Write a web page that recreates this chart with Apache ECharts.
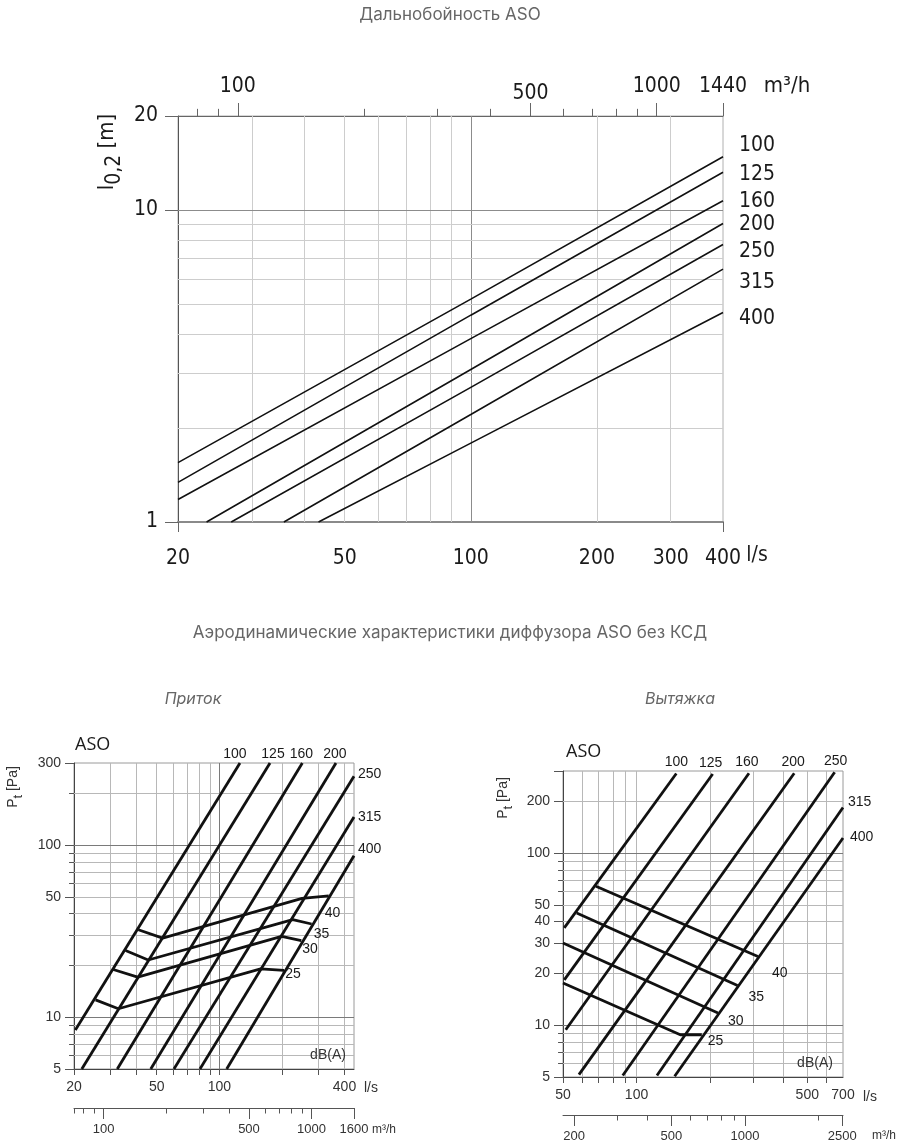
<!DOCTYPE html>
<html style="height: 100%">
<head>
    <meta charset="UTF-8">
    <title>Дальнобойность ASO</title>
    <script src="https://cdn.jsdelivr.net/npm/echarts@6.0.0/dist/echarts.min.js"></script>
</head>
<body style="height: 100%; margin: 0; background: #fff">
    <div id="main" style="width: 900px; height: 1148px"></div>
    <script type="text/javascript">
        // ---- Дальнобойность (l/s -> m) ----
        var throwSizes = ['100', '125', '160', '200', '250', '315', '400'];
        var throwFlow = [
            [20, 100, 400], [20, 100, 400], [20, 100, 400],
            [23.4, 100, 400], [26.8, 100, 400], [35.8, 100, 400], [43.3, 100, 400]
        ];
        var throwDist = [
            [1.55, 5.18, 14.8], [1.34, 4.6, 13.2], [1.18, 3.87, 10.7],
            [1, 3.08, 9.05], [1, 2.7, 7.75], [1, 2.21, 6.46], [1, 1.79, 4.69]
        ];
        var throwXGrid = [30, 40, 50, 60, 70, 80, 90, 100, 200, 300];
        var throwXDark = [100];
        var throwXLabels = [20, 50, 100, 200, 300, 400];
        var throwYGrid = [2, 3, 4, 5, 6, 7, 8, 9, 10];
        var throwYDark = [10];
        var throwYLabels = [1, 10, 20];
        var throwM3h = [80, 90, 100, 200, 300, 400, 500, 600, 700, 800, 900, 1000, 1440];
        var throwM3hLabels = [100, 500, 1000, 1440];

        // ---- Приток (l/s -> Pa) ----
        var supplySizes = ['100', '125', '160', '200', '250', '315', '400'];
        var supplyFlow = [[20.3, 125.7], [21.8, 175.3], [32.3, 250.8], [46.8, 364], [60.5, 444.4], [80.7, 444.4], [108.5, 444.4]];
        var supplyPress = [[8.43, 300], [5, 300], [5, 300], [5, 300], [5, 251], [5, 145.5], [5, 86.7]];
        var supplyNoise = ['25', '30', '35', '40'];
        var supplyNoiseFlow = [[25.4, 32.7, 158, 205], [30.6, 40.5, 199.4, 248], [35.4, 45.5, 225.5, 278], [40.8, 53.4, 250, 336]];
        var supplyNoisePress = [[12.6, 11.2, 19.1, 18.7], [19, 17.1, 29.5, 27.9], [24.4, 21.5, 36.9, 34.8], [32.2, 28.8, 49, 50.7]];
        var supplyXGrid = [30, 40, 50, 60, 70, 80, 90, 100, 200, 300, 400];
        var supplyXDark = [100];
        var supplyXLabels = [20, 50, 100, 400];
        var supplyYGrid = [6, 7, 8, 9, 10, 20, 30, 40, 50, 60, 70, 80, 90, 100, 200];
        var supplyYDark = [10, 100];
        var supplyYLabels = [5, 10, 50, 100, 300];
        var supplyM3h = [72, 80, 90, 100, 200, 300, 400, 500, 600, 700, 800, 900, 1000, 1600];
        var supplyM3hLabels = [100, 500, 1000, 1600];

        // ---- Вытяжка (l/s -> Pa) ----
        var exhaustSizes = ['100', '125', '160', '200', '250', '315', '400'];
        var exhaustFlow = [[50.6, 145.5], [50.6, 205], [51.3, 288.5], [58.1, 442], [87.8, 647], [121.2, 700], [143.2, 700]];
        var exhaustPress = [[36.8, 290], [18.35, 288], [9.41, 291], [5.16, 291], [5.1, 295], [5.1, 184], [5.05, 122.4]];
        var exhaustNoise = ['25', '30', '35', '40'];
        var exhaustNoiseFlow = [[50, 151, 185], [50, 215.5], [56.9, 259], [68.2, 314]];
        var exhaustNoisePress = [[17.6, 8.8, 8.8], [30, 11.77], [44.9, 17], [64.2, 25.1]];
        var exhaustXGrid = [60, 70, 80, 90, 100, 200, 300, 400, 500, 600];
        var exhaustXDark = [];
        var exhaustXLabels = [50, 100, 500, 700];
        var exhaustYGrid = [6, 7, 8, 9, 10, 20, 30, 40, 50, 60, 70, 80, 90, 100, 200];
        var exhaustYDark = [10, 100];
        var exhaustYLabels = [5, 10, 20, 30, 40, 50, 100, 200];
        var exhaustM3h = [200, 300, 400, 500, 600, 700, 800, 900, 1000, 2000, 2500];
        var exhaustM3hLabels = [200, 500, 1000, 2500];

        // label nudges (px) for the curve names
        var throwLabelDy = [-11, 2, 1, 1, 7, 13, 6];
        var supplyLabelOff = [[-5, -2], [3, -2], [-1, -2], [-1, -2], [4, -2], [4, 0], [4, -7]];
        var supplyNoiseOff = [[1, 4], [1, 9], [2, 10], [-4, 17]];
        var exhaustLabelOff = [[0, -4], [-2, -4], [-2, -4], [-1, -4], [1, -4], [5, -5], [7, -1]];
        var exhaustNoiseOff = [[6, 6], [10, 8], [11, 12], [14, 17]];

        var FONT_N = "'Liberation Sans Narrow', 'DejaVu Sans Condensed', 'Liberation Sans', sans-serif";
        var FONT = "'Liberation Sans', Arial, sans-serif";
        var FONT_T = "Inter, 'Noto Sans', sans-serif";
        var NONE = 'rgba(0,0,0,0)';

        var grid = [], xAxis = [], yAxis = [], series = [];

        function hidden(type, min, max, extra) {
            return Object.assign({
                type: type, min: min, max: max,
                axisLine: {show: false}, axisTick: {show: false},
                axisLabel: {show: false}, splitLine: {show: false}
            }, extra || {});
        }

        function addGrid(rect, xa, ya) {
            var i = grid.length;
            grid.push(rect);
            xa.gridIndex = i;
            ya.gridIndex = i;
            xAxis.push(xa);
            yAxis.push(ya);
            return i;
        }

        function markSeries(i, items) {
            series.push({
                type: 'line', xAxisIndex: i, yAxisIndex: i, data: [], clip: false, silent: true,
                markLine: {silent: true, symbol: 'none', animation: false, label: {show: false}, data: items}
            });
        }

        // grid lines + axis labels drawn as mark lines on the chart's own axes
        function gridLines(xs, xDark, ys, yDark, light, dark) {
            var items = [];
            xs.forEach(function (v) {
                items.push({xAxis: v, lineStyle: {type: 'solid', width: 1, color: xDark.indexOf(v) >= 0 ? dark : light}});
            });
            ys.forEach(function (v) {
                items.push({yAxis: v, lineStyle: {type: 'solid', width: 1, color: yDark.indexOf(v) >= 0 ? dark : light}});
            });
            return items;
        }

        function axisLabels(dim, vals, dist, style) {
            return vals.map(function (v) {
                var it = {
                    lineStyle: {color: NONE, width: 1, type: 'solid'},
                    label: Object.assign({show: true, position: 'start', distance: dist, formatter: String(v)}, style)
                };
                it[dim] = v;
                return it;
            });
        }

        // tick strip along x (log scale), ticks from 0 to 1 (majors) or minor
        function xStrip(rect, min, max, ticks, labels, opt) {
            var xa = hidden('log', min, max);
            if (opt.line) {
                xa.axisLine = {show: true, onZero: false, lineStyle: {color: opt.line, width: 1}};
                xa.position = opt.down ? 'top' : 'bottom';
            }
            var i = addGrid(rect, xa, hidden('value', 0, 1, {inverse: !!opt.down}));
            var items = ticks.map(function (v) {
                var major = labels.indexOf(v) >= 0 || (opt.majors || []).indexOf(v) >= 0;
                var from = {coord: [v, 0], lineStyle: {type: 'solid', width: 1, color: opt.color}};
                if (labels.indexOf(v) >= 0 && opt.labelStyle) {
                    var d = (opt.distFor && opt.distFor[v] != null) ? opt.distFor[v] : opt.dist;
                    from.label = Object.assign({show: true, position: 'end', distance: d, formatter: String(v)}, opt.labelStyle);
                }
                return [from, {coord: [v, major ? 1 : opt.minor]}];
            });
            markSeries(i, items);
        }

        // tick strip on the left of a chart (log y)
        function yStrip(rect, min, max, ticks, majors, opt) {
            var i = addGrid(rect, hidden('value', 0, 1, {inverse: true}), hidden('log', min, max));
            var items = ticks.map(function (v) {
                return [{coord: [0, v], lineStyle: {type: 'solid', width: 1, color: opt.color}},
                        {coord: [majors.indexOf(v) >= 0 ? 1 : opt.minor, v]}];
            });
            markSeries(i, items);
        }

        function curve(i, name, xs, ys, width, endLabel) {
            series.push({
                type: 'line', name: name, xAxisIndex: i, yAxisIndex: i,
                data: xs.map(function (x, k) { return [x, ys[k]]; }),
                symbol: 'none', showSymbol: false, clip: false, silent: true, z: 5,
                lineStyle: {color: '#111', width: width},
                endLabel: Object.assign({show: true, formatter: name, color: '#1a1a1a'}, endLabel)
            });
        }

        // ================= top chart =================
        var gT = addGrid({left: 178, top: 116, width: 545, height: 406, show: true, borderColor: '#b0b0b0', borderWidth: 1},
            hidden('log', 20, 400, {axisLine: {show: true, onZero: false, lineStyle: {color: '#8a8a8a', width: 2}}}),
            hidden('log', 1, 20, {axisLine: {show: true, onZero: false, lineStyle: {color: '#555', width: 1}}}));
        var topLab = {fontFamily: FONT_N, fontSize: 21, color: '#1a1a1a'};
        markSeries(gT, gridLines(throwXGrid, throwXDark, throwYGrid, throwYDark, '#cdcdcd', '#8c8c8c')
            .concat(axisLabels('xAxis', throwXLabels, 26, Object.assign({}, topLab)))
            .concat(axisLabels('yAxis', throwYLabels, 20, Object.assign({}, topLab))));
        throwSizes.forEach(function (s, k) {
            curve(gT, s, throwFlow[k], throwDist[k], 1.6,
                {distance: 16, offset: [0, throwLabelDy[k]], fontFamily: FONT_N, fontSize: 21});
        });
        // m3/h axis above
        xStrip({left: 178, top: 103, width: 545, height: 13}, 72, 1440, throwM3h, throwM3hLabels,
            {line: '#666', color: '#666', minor: 0.55, dist: 6, distFor: {500: -1}, labelStyle: topLab});
        yStrip({left: 165, top: 116, width: 13, height: 406}, 1, 20, throwYLabels, throwYLabels, {color: '#666', minor: 1});
        xStrip({left: 178, top: 522, width: 545, height: 10}, 20, 400, [20, 400], [], {down: true, color: '#666', minor: 1});

        // ================= bottom charts =================
        var botLab = {fontFamily: FONT, fontSize: 14, color: '#333'};
        var m3hLab = {fontFamily: FONT, fontSize: 13, color: '#333'};

        function pressureChart(rect, xMin, xMax, p, m3h) {
            var g = addGrid(Object.assign({show: true, borderColor: '#9a9a9a', borderWidth: 1}, rect),
                hidden('log', xMin, xMax, {axisLine: {show: true, onZero: false, lineStyle: {color: '#444', width: 1}}}),
                hidden('log', 5, 300, {axisLine: {show: true, onZero: false, lineStyle: {color: '#444', width: 1}}}));
            markSeries(g, gridLines(p.xGrid, p.xDark, p.yGrid, p.yDark, '#b8b8b8', '#7a7a7a')
                .concat(axisLabels('xAxis', p.xLabels, 11, Object.assign({}, botLab)))
                .concat(axisLabels('yAxis', p.yLabels, 13, Object.assign({}, botLab))));
            p.sizes.forEach(function (s, k) {
                var top = p.press[k][p.press[k].length - 1] >= 285;
                curve(g, s, p.flow[k], p.press[k], 2.8, top
                    ? {align: 'center', verticalAlign: 'bottom', distance: 0, offset: p.sizeOff[k], fontFamily: FONT, fontSize: 14}
                    : {distance: 0, offset: p.sizeOff[k], fontFamily: FONT, fontSize: 14});
            });
            p.noise.forEach(function (s, k) {
                curve(g, s, p.noiseFlow[k], p.noisePress[k], 2.8,
                    {distance: 0, offset: p.noiseOff[k], fontFamily: FONT, fontSize: 14});
            });
            var ticksLeft = [5, 6, 7, 8, 9, 10, 20, 30, 40, 50, 60, 70, 80, 90, 100, 200, 300];
            yStrip({left: rect.left - 9, top: rect.top, width: 9, height: rect.height}, 5, 300,
                ticksLeft, p.yLabels.concat([300]), {color: '#555', minor: 0.55});
            xStrip({left: rect.left, top: rect.top + rect.height, width: rect.width, height: 6}, xMin, xMax,
                [xMin].concat(p.xGrid), [], {down: true, color: '#555', minor: 1});
            xStrip({left: rect.left, top: m3h.top, width: rect.width, height: 11}, xMin * 3.6, xMax * 3.6,
                m3h.ticks, m3h.labels, {down: true, line: '#555', color: '#555', minor: 0.5, dist: 4, labelStyle: m3hLab});
            return g;
        }

        pressureChart({left: 74, top: 763, width: 280, height: 306}, 20, 1600 / 3.6, {
            xGrid: supplyXGrid, xDark: supplyXDark, xLabels: supplyXLabels,
            yGrid: supplyYGrid, yDark: supplyYDark, yLabels: supplyYLabels,
            sizes: supplySizes, flow: supplyFlow, press: supplyPress, sizeOff: supplyLabelOff,
            noise: supplyNoise, noiseFlow: supplyNoiseFlow, noisePress: supplyNoisePress, noiseOff: supplyNoiseOff
        }, {top: 1108, ticks: supplyM3h, labels: supplyM3hLabels});

        pressureChart({left: 563, top: 771, width: 280, height: 306}, 50, 700, {
            xGrid: exhaustXGrid, xDark: exhaustXDark, xLabels: exhaustXLabels,
            yGrid: exhaustYGrid, yDark: exhaustYDark, yLabels: exhaustYLabels,
            sizes: exhaustSizes, flow: exhaustFlow, press: exhaustPress, sizeOff: exhaustLabelOff,
            noise: exhaustNoise, noiseFlow: exhaustNoiseFlow, noisePress: exhaustNoisePress, noiseOff: exhaustNoiseOff
        }, {top: 1115, ticks: exhaustM3h, labels: exhaustM3hLabels});

        function txt(x, y, text, style, extra) {
            return Object.assign({
                type: 'text', x: x, y: y, silent: true, z: 10,
                style: Object.assign({text: text, align: 'center', verticalAlign: 'middle', fill: '#1a1a1a'}, style)
            }, extra || {});
        }
        var headStyle = {fontFamily: FONT_T, fontSize: 17, fill: '#666'};
        // subscript: lowered token via top padding (tokens are centred in the line)
        function subRich(font, size, color, drop) {
            return {
                a: {fontSize: size, fontFamily: font, fill: color, lineHeight: size + 2},
                b: {fontSize: size - 1, fontFamily: font, fill: color, lineHeight: size + 2, padding: [drop * 2, 0, 0, 0]}
            };
        }

        var graphic = [
            txt(450, 15, 'Дальнобойность ASO', headStyle),
            txt(450, 633, 'Аэродинамические характеристики диффузора ASO без КСД', headStyle),
            txt(193, 699, 'Приток', Object.assign({}, headStyle, {fontStyle: 'italic', fontSize: 16})),
            txt(680, 699, 'Вытяжка', Object.assign({}, headStyle, {fontStyle: 'italic', fontSize: 16})),
            // top chart units and name
            txt(787, 86, 'm³/h', {fontFamily: FONT_N, fontSize: 22}),
            txt(757, 556, 'l/s', {fontFamily: FONT_N, fontSize: 21}),
            txt(107, 152, '{a|l}{b|0,2}{a| [m]}', {rich: subRich(FONT_N, 22, '#1a1a1a', 8)}, {rotation: Math.PI / 2}),
            // Приток
            txt(75, 745, 'ASO', {fontFamily: "'Open Sans', 'Noto Sans', sans-serif", fontSize: 18, align: 'left'}),
            txt(371, 1088, 'l/s', {fontFamily: FONT, fontSize: 14, fill: '#333'}),
            txt(372, 1130, 'm³/h', {fontFamily: FONT, fontSize: 12, fill: '#333', align: 'left'}),
            txt(328, 1055, 'dB(A)', {fontFamily: FONT, fontSize: 14, fill: '#333'}),
            txt(13, 787, '{a|P}{b|t}{a| [Pa]}', {rich: subRich(FONT, 14, '#333', 5)}, {rotation: Math.PI / 2}),
            // Вытяжка
            txt(566, 752, 'ASO', {fontFamily: "'Open Sans', 'Noto Sans', sans-serif", fontSize: 18, align: 'left'}),
            txt(870, 1097, 'l/s', {fontFamily: FONT, fontSize: 14, fill: '#333'}),
            txt(872, 1136, 'm³/h', {fontFamily: FONT, fontSize: 12, fill: '#333', align: 'left'}),
            txt(815, 1063, 'dB(A)', {fontFamily: FONT, fontSize: 14, fill: '#333'}),
            txt(503, 798, '{a|P}{b|t}{a| [Pa]}', {rich: subRich(FONT, 14, '#333', 5)}, {rotation: Math.PI / 2})
        ];

        var myChart = echarts.init(document.getElementById('main'));
        myChart.setOption({
            backgroundColor: '#fff',
            animation: false,
            grid: grid,
            xAxis: xAxis,
            yAxis: yAxis,
            series: series,
            graphic: graphic
        });
    </script>
</body>
</html>
